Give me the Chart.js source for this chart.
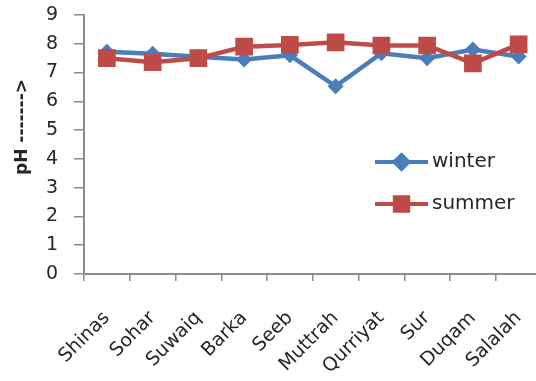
<!DOCTYPE html>
<html>
<head>
<meta charset="utf-8">
<script src="https://cdn.jsdelivr.net/npm/chart.js@4/dist/chart.umd.min.js"></script>
<style>
  html, body { margin: 0; padding: 0; background: #fff; overflow: hidden; }
  #wrap { width: 554px; height: 381px; }
</style>
</head>
<body>
<div id="wrap"><canvas id="c" width="554" height="381"></canvas></div>
<script>
// Sampling sites along the coast
const sites = ['Shinas', 'Sohar', 'Suwaiq', 'Barka', 'Seeb', 'Muttrah', 'Qurriyat', 'Sur', 'Duqam', 'Salalah'];
// pH readings per season
const winterPH = [7.72, 7.65, 7.55, 7.45, 7.6, 6.52, 7.67, 7.5, 7.8, 7.56];
const summerPH = [7.5, 7.36, 7.5, 7.9, 7.96, 8.05, 7.94, 7.94, 7.32, 7.98];
// y-axis tick values
const phTicks = [0, 1, 2, 3, 4, 5, 6, 7, 8, 9];

const FONT = 'DejaVu Sans';
const TEXT = '#262626';
const AXIS = '#8c8c8c';

// Legend drawn inside the plot area, plus the rotated y-axis title
const overlay = {
  id: 'overlay',
  afterDraw(chart) {
    const ctx = chart.ctx;
    ctx.save();
    // y-axis title
    ctx.translate(23, 127);
    ctx.rotate(-Math.PI / 2);
    ctx.font = 'bold 17px ' + FONT;
    ctx.fillStyle = TEXT;
    ctx.textAlign = 'center';
    ctx.textBaseline = 'middle';
    ctx.fillText('pH ------->', 0, 0);
    ctx.restore();

    const rows = [162, 204];
    const legendRadius = [7, 9.5];
    chart.data.datasets.forEach((ds, i) => {
      const y = rows[i];
      ctx.save();
      ctx.strokeStyle = ds.borderColor;
      ctx.lineWidth = 4;
      ctx.beginPath();
      ctx.moveTo(375, y);
      ctx.lineTo(428, y);
      ctx.stroke();
      Chart.helpers.drawPoint(ctx, {
        pointStyle: ds.pointStyle,
        radius: legendRadius[i],
        borderWidth: 1
      }, 401.5, y);
      ctx.fillStyle = ds.backgroundColor;
      ctx.fill();
      ctx.font = '20px ' + FONT;
      ctx.fillStyle = TEXT;
      ctx.textAlign = 'left';
      ctx.textBaseline = 'middle';
      ctx.fillText(ds.label, 432, y);
      ctx.restore();
    });
  }
};

new Chart(document.getElementById('c'), {
  type: 'line',
  data: {
    labels: sites,
    datasets: [
      {
        label: 'winter',
        data: winterPH,
        borderColor: '#4a7ebb',
        backgroundColor: '#4a7ebb',
        borderWidth: 4.5,
        pointStyle: 'rectRot',
        pointRadius: 8,
        pointBorderWidth: 0,
        order: 1,
        tension: 0
      },
      {
        label: 'summer',
        data: summerPH,
        borderColor: '#be4b48',
        backgroundColor: '#be4b48',
        borderWidth: 4.5,
        pointStyle: 'rect',
        pointRadius: 12.5,
        pointBorderWidth: 0,
        order: 0,
        tension: 0
      }
    ]
  },
  options: {
    responsive: false,
    animation: false,
    events: [],
    layout: { padding: { left: 0, right: 1, top: 15, bottom: 0 } },
    plugins: { legend: { display: false }, tooltip: { enabled: false } },
    scales: {
      x: {
        type: 'category',
        offset: true,
        grid: {
          offset: true,
          drawOnChartArea: false,
          color: AXIS,
          lineWidth: 1.5,
          tickLength: 7,
          tickColor: AXIS
        },
        border: { color: AXIS, width: 2 },
        ticks: {
          maxRotation: 45,
          minRotation: 45,
          padding: 26,
          color: TEXT,
          font: { family: FONT, size: 19 }
        },
        afterFit(s) {
          s.height = 381 - 274;
          s.paddingLeft = 0;
          s.paddingRight = 0;
        }
      },
      y: {
        min: 0,
        max: 9,
        afterBuildTicks(s) { s.ticks = phTicks.map(v => ({ value: v })); },
        grid: {
          drawOnChartArea: false,
          color: AXIS,
          lineWidth: 1.5,
          tickLength: 10,
          tickColor: AXIS
        },
        border: { color: AXIS, width: 2 },
        ticks: {
          padding: 16,
          color: TEXT,
          font: { family: FONT, size: 19 }
        },
        afterFit(s) {
          s.width = 84;
          s.paddingTop = 0;
          s.paddingBottom = 0;
        }
      }
    }
  },
  plugins: [overlay]
});
</script>
</body>
</html>
